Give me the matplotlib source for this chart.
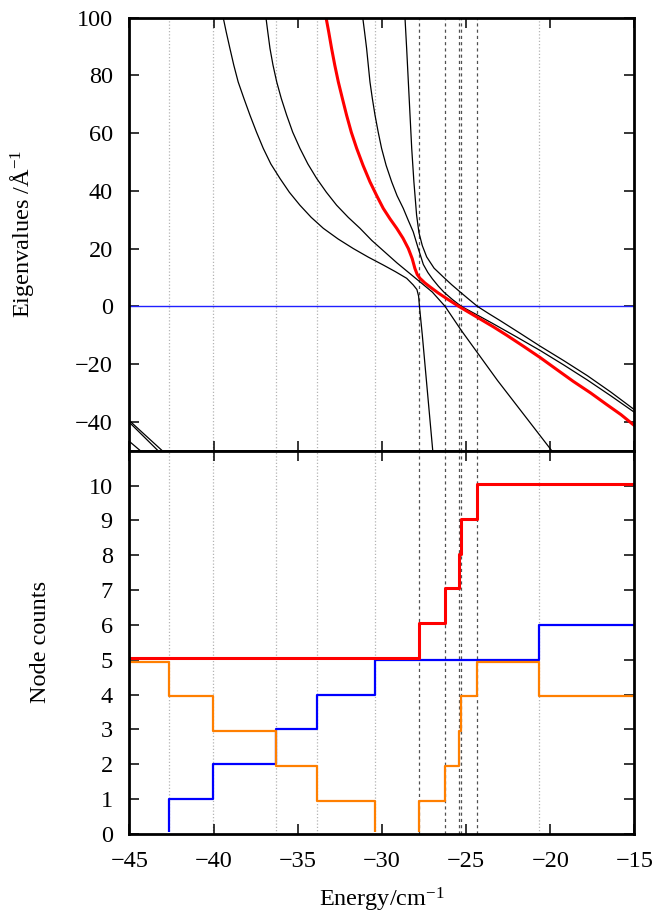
import matplotlib
matplotlib.use("Agg")
import matplotlib.pyplot as plt
from matplotlib.patches import Rectangle
import numpy as np

plt.rcParams['font.family'] = ['Liberation Serif', 'DejaVu Serif']
plt.rcParams['mathtext.fontset'] = 'custom'
plt.rcParams['mathtext.rm'] = 'Liberation Serif'
plt.rcParams['mathtext.it'] = 'Liberation Serif:italic'

# ---------------- data: eigenvalue curves (top panel) ----------------
curveA_x = [-39.43, -39.25, -39.03, -38.80, -38.54, -38.20, -37.84, -37.45, -37.05, -36.60,
            -36.06, -35.50, -34.87, -34.20, -33.48, -32.60, -31.70, -30.80, -29.92, -29.20,
            -28.53, -28.14, -27.92, -27.82, -27.77, -27.60, -26.98]
curveA_y = [100, 95.0, 89.3, 83.5, 77.7, 72.0, 66.2, 60.3, 54.7, 49.3,
            44.3, 39.5, 35.0, 30.8, 27.0, 23.3, 20.0, 17.0, 14.3, 12.0,
            9.7, 7.4, 5.8, 3.5, 0.0, -10.0, -50.0]

curveB_x = [-36.89, -36.78, -36.65, -36.47, -36.25, -35.98, -35.66, -35.30, -34.87, -34.40,
            -33.88, -33.30, -32.69, -32.00, -31.30, -30.60, -29.85, -29.10, -28.33, -27.60,
            -27.00, -26.25, -25.29, -23.13, -19.91]
curveB_y = [100, 95.0, 89.3, 83.5, 77.7, 72.0, 66.2, 60.3, 54.7, 49.3,
            44.3, 39.5, 35.0, 30.8, 27.0, 22.8, 18.9, 15.0, 11.3, 7.8,
            4.9, 0.0, -8.3, -25.7, -50.0]

red_x = [-33.32, -33.16, -32.99, -32.80, -32.59, -32.35, -32.10, -31.82, -31.50, -31.12,
         -30.71, -30.30, -29.92, -29.52, -29.12, -28.75, -28.43, -28.20, -28.04, -27.90,
         -27.74, -27.45, -27.14, -26.65, -26.16, -25.44, -24.57, -23.38, -22.59, -21.60,
         -20.61, -19.42, -18.63, -17.60, -16.65, -15.80, -15.00]
red_y = [100, 95.0, 89.3, 83.5, 77.7, 72.0, 66.2, 60.3, 54.7, 48.8,
         43.1, 38.2, 33.9, 30.3, 27.0, 23.6, 20.0, 16.5, 13.1, 11.0,
         9.7, 8.1, 6.7, 4.6, 2.7, 0.0, -3.0, -7.1, -10.0, -13.8,
         -17.7, -22.7, -26.0, -30.0, -34.0, -37.5, -41.3]

curveD_x = [-31.14, -31.03, -30.91, -30.81, -30.71, -30.57, -30.41, -30.22, -30.02, -29.75,
            -29.42, -29.10, -28.73, -28.43, -28.14, -27.84, -27.54, -27.27, -27.00, -26.65,
            -26.30, -25.80, -25.29, -24.40, -23.40, -22.00, -20.60, -19.20, -17.80, -16.40,
            -15.00]
curveD_y = [100, 95.0, 89.3, 83.5, 77.7, 72.0, 66.2, 60.3, 54.7, 48.8,
            43.1, 38.3, 33.9, 29.7, 25.8, 20.0, 14.5, 11.7, 9.5, 7.0,
            4.8, 2.3, 0.0, -2.8, -6.0, -10.6, -15.3, -20.3, -25.5, -31.0,
            -36.7]

curveE_x = [-28.63, -28.53, -28.43, -28.33, -28.23, -28.10, -27.94, -27.80, -27.60, -27.34,
            -26.90, -26.36, -25.86, -25.36, -24.85, -24.33, -23.66, -22.99, -21.80, -20.60,
            -19.20, -17.80, -16.40, -15.00]
curveE_y = [100, 89.3, 77.7, 66.2, 54.7, 43.1, 31.6, 25.5, 21.0, 17.1,
            13.2, 10.2, 7.5, 5.0, 2.5, 0.0, -2.5, -4.9, -9.3, -13.8,
            -18.8, -24.0, -29.7, -35.8]

low1_x = [-45.0, -43.05]
low1_y = [-39.6, -50.0]
low2_x = [-45.0, -43.30]
low2_y = [-40.2, -50.0]
low3_x = [-45.0, -44.35]
low3_y = [-46.8, -50.0]

# ---------------- data: node counts (bottom panel) ----------------
red_step_x = [-45.0, -27.78, -26.25, -25.44, -25.29, -24.33, -15.0]
red_step_n = [5, 6, 7, 8, 9, 10, 10]

orange_step_x = [-45.0, -42.64, -40.02, -36.31, -33.88, -30.40, -27.78, -26.25, -25.44,
                 -25.29, -24.33, -20.67, -15.0]
orange_step_n = [5, 4, 3, 2, 1, 0, 1, 2, 3, 4, 5, 4, 4]

blue_step_x = [-45.0, -42.64, -40.02, -36.31, -33.88, -30.40, -20.67, -15.0]
blue_step_n = [0, 1, 2, 3, 4, 5, 6, 6]

# vertical marker positions
node_lines = [-42.64, -40.02, -36.31, -33.88, -30.40, -20.67]
zero_lines = [-27.78, -26.25, -25.44, -25.29, -24.33]

FS = 17.5

# ---------------- figure ----------------
fig = plt.figure(figsize=(6.57, 9.17), dpi=100)
ax1 = fig.add_axes([0.197, 0.5085, 0.7686, 0.4724])
ax2 = fig.add_axes([0.197, 0.0905, 0.7686, 0.418])

for ax in (ax1, ax2):
    for xv in node_lines:
        ax.axvline(xv, color='#b4b4b4', lw=0.9, ls=(0, (1.0, 1.6)), zorder=1)
    for xv in zero_lines:
        ax.axvline(xv, color='#505050', lw=0.9, ls=(0, (2.5, 2.5)), zorder=1)

# top panel
ax1.axhline(0, color='#2020ff', lw=1.0, zorder=2)
for cx, cy in [(curveA_x, curveA_y), (curveB_x, curveB_y), (curveD_x, curveD_y),
               (curveE_x, curveE_y), (low1_x, low1_y), (low2_x, low2_y), (low3_x, low3_y)]:
    ax1.plot(cx, cy, color='black', lw=0.9, zorder=3, solid_joinstyle='round')
ax1.plot(red_x, red_y, color='#ff0000', lw=2.2, zorder=4, solid_joinstyle='round')

ax1.set_xlim(-45, -15)
ax1.set_ylim(-50, 100)
ax1.set_yticks(np.arange(-40, 101, 20))
ax1.set_xticks(np.arange(-45, -14, 5))
ax1.tick_params(labelbottom=False)
ax1.set_ylabel('Eigenvalues /Å$^{-1}$', fontsize=FS)
ax1.yaxis.set_label_coords(-0.185, 0.5)

# bottom panel
ax2.set_xlim(-45, -15)
ax2.set_ylim(0, 11)
off = 0.05
clip = Rectangle((-45, 0.06), 30, 11, transform=ax2.transData, fill=False, visible=False)
ax2.add_patch(clip)
lb, = ax2.plot(blue_step_x, np.array(blue_step_n), drawstyle='steps-post', color='#0000ff', lw=1.6, zorder=3)
lo, = ax2.plot(orange_step_x, np.array(orange_step_n) - off, drawstyle='steps-post', color='#ff7f00', lw=1.6, zorder=3)
lr, = ax2.plot(red_step_x, np.array(red_step_n) + off, drawstyle='steps-post', color='#ff0000', lw=2.2, zorder=4)
for ln in (lb, lo):
    ln.set_clip_path(clip)

ax2.set_yticks(np.arange(0, 11, 1))
ax2.set_xticks(np.arange(-45, -14, 5))
ax2.set_ylabel('Node counts', fontsize=FS)
ax2.yaxis.set_label_coords(-0.155, 0.5)
ax2.set_xlabel('Energy/cm$^{-1}$', fontsize=FS, labelpad=10)

for ax in (ax1, ax2):
    for s in ax.spines.values():
        s.set_linewidth(2.0)
        s.set_zorder(6)
    ax.tick_params(direction='in', length=7, width=1.1, top=True, right=True,
                   labelsize=FS)
    ax.tick_params(axis='x', pad=12)
    ax.tick_params(axis='y', pad=12)

fig.savefig('out.png', dpi=100)
